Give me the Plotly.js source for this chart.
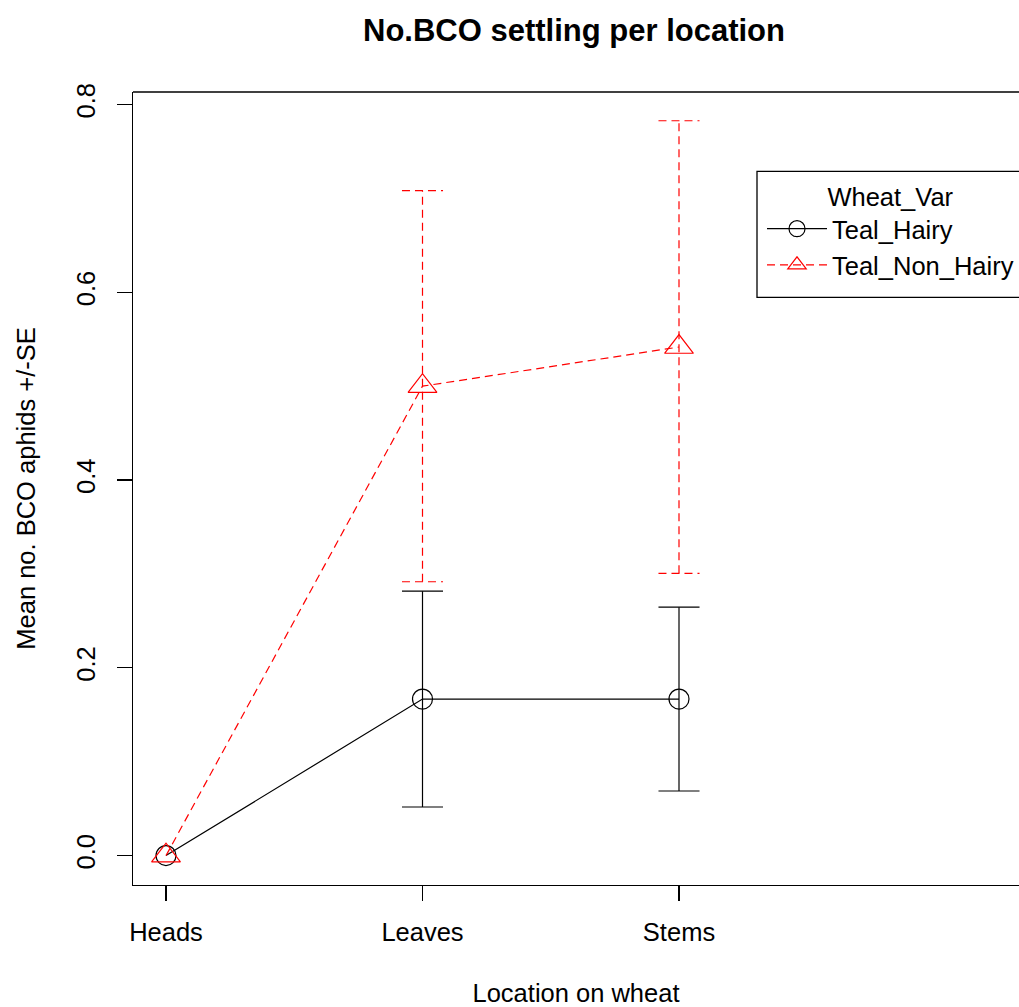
<!DOCTYPE html>
<html>
<head>
<meta charset="utf-8">
<script src="https://cdn.plot.ly/plotly-3.0.1.min.js"></script>
<style>html,body{margin:0;padding:0;background:#fff;}#chart{width:1019px;height:1007px;}</style>
</head>
<body>
<div id="chart"></div>
<script>
// ---- data ----
var locations = ["Heads", "Leaves", "Stems"];
var locationPos = [1, 2, 3];
var hairyMean = [0, 0.1667, 0.1667];
var hairySE = [0, 0.1149, 0.0979];
var nonHairyMean = [0, 0.5, 0.5417];
var nonHairySE = [0, 0.2083, 0.2410];
var yTicks = [0, 0.2, 0.4, 0.6, 0.8];
var yTickText = ["0.0", "0.2", "0.4", "0.6", "0.8"];

var FONT = "Liberation Sans, Arial, sans-serif";
var CAP = 0.08; // half cap width in x data units

function errorBars(mean, se) {
  var xs = [], ys = [];
  for (var i = 0; i < mean.length; i++) {
    if (!se[i]) continue;
    var x = locationPos[i], lo = mean[i] - se[i], hi = mean[i] + se[i];
    xs.push(x, x, null, x - CAP, x + CAP, null, x - CAP, x + CAP, null);
    ys.push(lo, hi, null, hi, hi, null, lo, lo, null);
  }
  return {x: xs, y: ys};
}

var ebH = errorBars(hairyMean, hairySE);
var ebN = errorBars(nonHairyMean, nonHairySE);

var traces = [
  {
    x: locationPos, y: hairyMean, type: "scatter", mode: "lines+markers",
    name: "Teal_Hairy",
    line: {color: "#000000", width: 1.2},
    marker: {symbol: "circle-open", size: 20, color: "#000000", line: {width: 1.2}},
    cliponaxis: false
  },
  {
    x: locationPos, y: nonHairyMean, type: "scatter", mode: "lines+markers",
    name: "Teal_Non_Hairy",
    line: {color: "#ff0000", width: 1.2, dash: "8px,5px"},
    marker: {symbol: "triangle-up-open", size: 25, color: "#ff0000", line: {width: 1.2}},
    cliponaxis: false
  },
  {
    x: ebH.x, y: ebH.y, type: "scatter", mode: "lines", showlegend: false, hoverinfo: "skip",
    line: {color: "#000000", width: 1.2}
  },
  {
    x: ebN.x, y: ebN.y, type: "scatter", mode: "lines", showlegend: false, hoverinfo: "skip",
    line: {color: "#ff0000", width: 1.2, dash: "8px,5px"}
  }
];

var layout = {
  width: 1019, height: 1007,
  margin: {l: 133, r: 0, t: 91.5, b: 122, pad: 0},
  paper_bgcolor: "#ffffff", plot_bgcolor: "#ffffff",
  font: {family: FONT, size: 25.5, color: "#000000"},
  title: {
    text: "<b>No.BCO settling per location</b>",
    font: {family: FONT, size: 31, color: "#000000"},
    xref: "container", x: 574 / 1019, xanchor: "center",
    yref: "container", y: 1 - 30 / 1007, yanchor: "middle"
  },
  showlegend: true,
  legend: {
    xref: "paper", yref: "paper",
    x: 1, xanchor: "right",
    y: (885 - 172) / 793.5, yanchor: "top",
    bgcolor: "rgba(0,0,0,0)", borderwidth: 0,
    itemwidth: 60,
    font: {family: FONT, size: 25.5, color: "#000000"},
    title: {text: "Wheat_Var", side: "top center", font: {family: FONT, size: 25.5}},
    tracegroupgap: 0
  },
  xaxis: {
    range: [1 - 33 / 256.5, 1 + 853 / 256.5],
    tickmode: "array", tickvals: locationPos, ticktext: locations,
    showgrid: false, zeroline: false,
    showline: true, linecolor: "#000000", linewidth: 1.3,
    ticks: "outside", ticklen: 15, tickwidth: 1.3, tickcolor: "#000000",
    ticklabelstandoff: 9,
    tickfont: {family: FONT, size: 25.5, color: "#000000"},
    title: {text: "Location on wheat", font: {family: FONT, size: 25.5, color: "#000000"}, standoff: 46},
    automargin: false, fixedrange: true
  },
  yaxis: {
    range: [-0.0313, 0.8133],
    tickmode: "array", tickvals: yTicks, ticktext: yTickText,
    tickangle: -90,
    showgrid: false, zeroline: false,
    showline: true, linecolor: "#000000", linewidth: 1.3,
    ticks: "outside", ticklen: 15, tickwidth: 1.3, tickcolor: "#000000",
    ticklabelstandoff: 12,
    tickfont: {family: FONT, size: 25.5, color: "#000000"},
    title: {text: "Mean no. BCO aphids +/-SE", font: {family: FONT, size: 25.5, color: "#000000"}, standoff: 28},
    automargin: false, fixedrange: true
  },
  shapes: [
    {type: "line", xref: "paper", yref: "paper", x0: 0, x1: 1.02, y0: 1, y1: 1,
     line: {color: "#000000", width: 1.3}},
    {type: "rect", xref: "paper", yref: "paper",
     x0: (757 - 133) / 886, x1: (1025 - 133) / 886,
     y0: (885 - 297) / 793.5, y1: (885 - 171) / 793.5,
     line: {color: "#000000", width: 1.3}, fillcolor: "rgba(0,0,0,0)"}
  ]
};

Plotly.newPlot("chart", traces, layout, {staticPlot: true, displayModeBar: false});
</script>
</body>
</html>
